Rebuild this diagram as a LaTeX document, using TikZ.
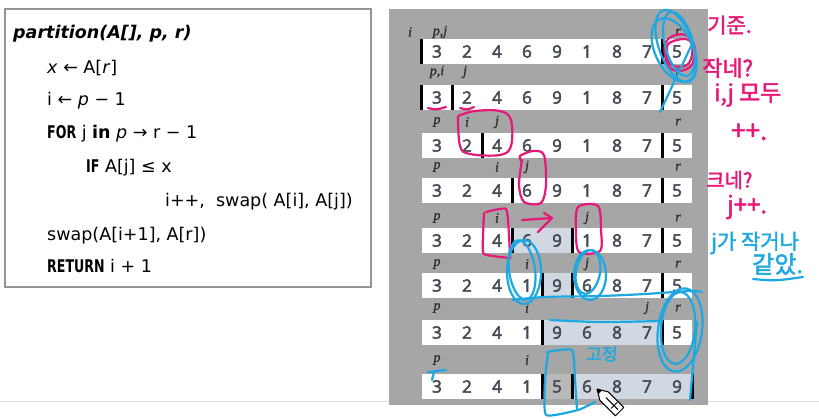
\documentclass[tikz,border=0pt]{standalone}
\usepackage{fontspec}
\usepackage{graphicx}
\setmainfont{DejaVu Sans}
\newfontfamily\numfont[FakeBold=3]{Open Sans}
\newfontfamily\lblfont[FakeBold=1]{Liberation Serif}
\newfontfamily\hand[FakeBold=2]{Noto Sans CJK KR}
\definecolor{panelgray}{RGB}{166,166,166}
\definecolor{shadec}{RGB}{210,216,226}
\definecolor{digitc}{RGB}{68,74,84}
\definecolor{lblc}{RGB}{45,45,45}
\definecolor{pinkc}{RGB}{230,25,120}
\definecolor{cyanc}{RGB}{30,168,225}
\definecolor{boxc}{RGB}{150,150,150}
\newcommand{\kw}[1]{\scalebox{0.72}[1]{\bfseries #1}}
\newcommand{\codesize}{\fontsize{17.5}{21}\selectfont}
\newcommand{\digitrow}[2]{%
  \foreach \d [count=\k from 0] in {#2} {\node[digit] (n#1-\k) at ({437+30*\k},{#1+12.5}) {\d};}}
\newcommand{\vbar}[2]{\draw[barline] (#1,#2) -- (#1,{#2+25});}
\newcommand{\whitebox}[3]{\fill[white] (#1,#3) rectangle (#2,{#3+25});}
\newcommand{\shadebox}[3]{\fill[shadec] (#1,#3) rectangle (#2,{#3+25});}
\newcommand{\hs}[1]{\hand\fontsize{#1}{#1}\selectfont}
\begin{document}
\begin{tikzpicture}[x=1pt,y=-1pt,
  codeline/.style={anchor=base west,inner sep=0pt,font=\codesize,text=black},
  digit/.style={inner sep=0pt,font=\numfont\fontsize{17}{20}\selectfont,text=digitc},
  lbl/.style={inner sep=0pt,font=\lblfont\itshape\fontsize{14}{16}\selectfont,text=lblc},
  barline/.style={line width=3pt,black},
  pinkpen/.style={draw=pinkc,line width=2.2pt,line cap=round,line join=round},
  cyanpen/.style={draw=cyanc,line width=2.2pt,line cap=round,line join=round},
  pinktext/.style={inner sep=0pt,anchor=west,text=pinkc},
  cyantext/.style={inner sep=0pt,anchor=west,text=cyanc}]
\useasboundingbox (0,0) rectangle (819,418);
\fill[white] (0,0) rectangle (819,418);
\draw[line width=1pt,black!12] (0,401) -- (819,401);
% code box
\draw[line width=2.4pt,draw=boxc,fill=white] (5,9) rectangle (371,287);
\node[codeline] (c1) at (13,38) {\bfseries\itshape partition(A[], p, r)};
\node[codeline] (c2) at (47,73) {\textit{x} ← A[\textit{r}]};
\node[codeline] (c3) at (47,105) {i ← \textit{p} − 1};
\node[codeline] (c4) at (47,138) {\kw{FOR} j \textbf{in} \textit{p} → r − 1};
\node[codeline] (c5) at (86,172) {\kw{IF} A[j] ≤ x};
\node[codeline] (c6) at (165,206) {i++,\ \ swap( A[i], A[j])};
\node[codeline] (c7) at (47,240) {swap(A[i+1], A[r])};
\node[codeline] (c8) at (47,272) {\kw{RETURN} i + 1};
% panel
\fill[panelgray] (389,9) rectangle (708,405);
% row 1
\whitebox{422}{692}{39}
\digitrow{39}{3,2,4,6,9,1,8,7,5}
\vbar{421}{39}\vbar{662}{39}
\node[lbl] (l1i) at (410,32) {i};
\node[lbl] (l1p) at (440,32) {p,j};
\node[lbl] (l1r) at (678,32) {r};
% row 2
\whitebox{422}{692}{85}
\digitrow{85}{3,2,4,6,9,1,8,7,5}
\vbar{421}{85}\vbar{452}{85}\vbar{662}{85}
\node[lbl] (l2p) at (437,72) {p,i};
\node[lbl] (l2j) at (465,72) {j};
\node[lbl] (l2r) at (678,72) {r};
% row 3
\whitebox{422}{692}{133}
\digitrow{133}{3,2,4,6,9,1,8,7,5}
\vbar{482}{133}\vbar{662}{133}
\node[lbl] (l3p) at (437,122) {p};
\node[lbl] (l3i) at (467,122) {i};
\node[lbl] (l3j) at (497,122) {j};
\node[lbl] (l3r) at (678,122) {r};
% row 4
\whitebox{422}{692}{178}
\digitrow{178}{3,2,4,6,9,1,8,7,5}
\vbar{512}{178}\vbar{662}{178}
\node[lbl] (l4p) at (437,167) {p};
\node[lbl] (l4i) at (497,167) {i};
\node[lbl] (l4j) at (527,167) {j};
\node[lbl] (l4r) at (678,167) {r};
% row 5
\whitebox{422}{692}{228}
\shadebox{512}{572}{228}
\digitrow{228}{3,2,4,6,9,1,8,7,5}
\vbar{512}{228}\vbar{572}{228}\vbar{662}{228}
\node[lbl] (l5p) at (437,218) {p};
\node[lbl] (l5i) at (497,218) {i};
\node[lbl] (l5j) at (587,218) {j};
\node[lbl] (l5r) at (678,218) {r};
% row 6
\whitebox{422}{692}{273}
\shadebox{542}{572}{273}
\digitrow{273}{3,2,4,1,9,6,8,7,5}
\vbar{542}{273}\vbar{572}{273}\vbar{662}{273}
\node[lbl] (l6p) at (437,264) {p};
\node[lbl] (l6i) at (527,264) {i};
\node[lbl] (l6j) at (587,264) {j};
\node[lbl] (l6r) at (678,264) {r};
% row 7
\whitebox{422}{692}{320}
\shadebox{542}{662}{320}
\digitrow{320}{3,2,4,1,9,6,8,7,5}
\vbar{542}{320}\vbar{662}{320}
\node[lbl] (l7p) at (437,308) {p};
\node[lbl] (l7i) at (527,308) {i};
\node[lbl] (l7j) at (647,308) {j};
\node[lbl] (l7r) at (678,308) {r};
% row 8
\whitebox{422}{542}{374}
\fill[black!28] (542,374) rectangle (572,399);
\shadebox{572}{692}{374}
\digitrow{374}{3,2,4,1,5,6,8,7,9}
\vbar{542}{374}\vbar{572}{374}\vbar{692}{374}
\node[lbl] (l8p) at (437,360) {p};
\node[lbl] (l8i) at (527,360) {i};
% ---------- pink handwriting ----------
\draw[pinkpen] plot[smooth cycle,tension=0.7] coordinates {(668,39) (686,35) (695,49) (690,67) (673,70) (665,56)};
\draw[pinkpen] plot[smooth cycle,tension=0.7] coordinates {(671,42) (689,40) (692,55) (685,66) (670,64) (667,50)};
\draw[pinkpen] (428,108) .. controls (436,110) .. (446,107);
\draw[pinkpen] (460,108) .. controls (467,110) .. (474,107);
\draw[pinkpen] plot[smooth,tension=0.6] coordinates {(458,116) (460,146) (470,154) (500,155) (511,146) (511,120) (500,111) (475,111) (458,116)};
\draw[pinkpen] plot[smooth,tension=0.5] coordinates {(522,160) (519,185) (524,202) (541,203) (546,185) (544,155) (533,151) (520,156) (522,162)};
\draw[pinkpen] plot[smooth,tension=0.3] coordinates {(486,212) (506,209) (509,235) (510,258)};
\draw[pinkpen] plot[smooth,tension=0.3] coordinates {(484,213) (483,236) (484,254) (510,258)};
\draw[pinkpen] (522,220) .. controls (537,219) .. (552,218);
\draw[pinkpen] (544,213) -- (552,218) .. controls (546,224) .. (538,232);
\draw[pinkpen] plot[smooth cycle,tension=0.5] coordinates {(578,207) (598,206) (601,230) (600,251) (579,252) (576,230)};
\node[pinktext,font=\hs{21}] (t1) at (707,25) {기준.};
\node[pinktext,font=\hs{22}] (t2) at (702,68) {작네?};
\node[pinktext,font=\hs{23}] (t3) at (714,95) {i,j 모두};
\node[pinktext,font=\hs{26}] (t4) at (731,132) {++.};
\node[pinktext,font=\hs{20}] (t5) at (706,180) {크네?};
\node[pinktext,font=\hs{24}] (t6) at (727,207) {j++.};
% ---------- cyan handwriting ----------
\draw[cyanpen,rotate around={20:(676,46)}] (676,46) ellipse [x radius=17,y radius=38];
\draw[cyanpen,rotate around={15:(679,44)}] (679,44) ellipse [x radius=14,y radius=33];
\draw[cyanpen,rotate around={25:(674,50)}] (674,50) ellipse [x radius=19,y radius=34];
\draw[cyanpen] (693,42) -- (660,112);
\draw[cyanpen] (524,272) ellipse [x radius=17,y radius=32];
\draw[cyanpen,rotate around={8:(522,270)}] (522,270) ellipse [x radius=13,y radius=30];
\draw[cyanpen] (590,275) ellipse [x radius=16,y radius=25];
\draw[cyanpen,rotate around={-10:(588,272)}] (588,272) ellipse [x radius=12,y radius=22];
\draw[cyanpen] plot[smooth,tension=0.5] coordinates {(512,300) (545,297) (600,296) (645,294) (690,291) (702,292)};
\draw[cyanpen] plot[smooth,tension=0.5] coordinates {(550,320) (600,322) (662,321)};
\draw[cyanpen,rotate around={-8:(680,330)}] (680,330) ellipse [x radius=22,y radius=42];
\draw[cyanpen,rotate around={-5:(678,328)}] (678,328) ellipse [x radius=17,y radius=36];
\draw[cyanpen] (697,322) -- (690,400);
\draw[cyanpen] plot[smooth,tension=0.3] coordinates {(547,352) (572,350) (575,380) (577,410)};
\draw[cyanpen] plot[smooth,tension=0.3] coordinates {(548,352) (545,380) (546,415) (578,410) (595,402)};
\draw[cyanpen] (428,372) -- (446,370);
\draw[cyanpen] (434,372) -- (432,380);
\node[cyantext,font=\hs{17}] (t9) at (586,354) {고정};
\node[cyantext,font=\hs{21}] (t7) at (711,243) {j가 작거나};
\node[cyantext,font=\hs{24}] (t8) at (752,264) {같았.};
\draw[cyanpen] (753,279) .. controls (775,281) .. (803,277);
% pencil cursor
\draw[black,fill=white,line width=1pt,line join=round] (597,389) -- (608.3,391.9) -- (623.8,407.4) -- (615.4,415.8) -- (599.9,400.3) -- cycle;
\fill[black] (597,389) -- (602,390.3) -- (598.3,394) -- cycle;
\draw[black,line width=1pt] (606,397.6) -- (618,409.6);
\draw[black,line width=1pt] (617.2,402.3) -- (611,408.5);
\end{tikzpicture}
\end{document}
